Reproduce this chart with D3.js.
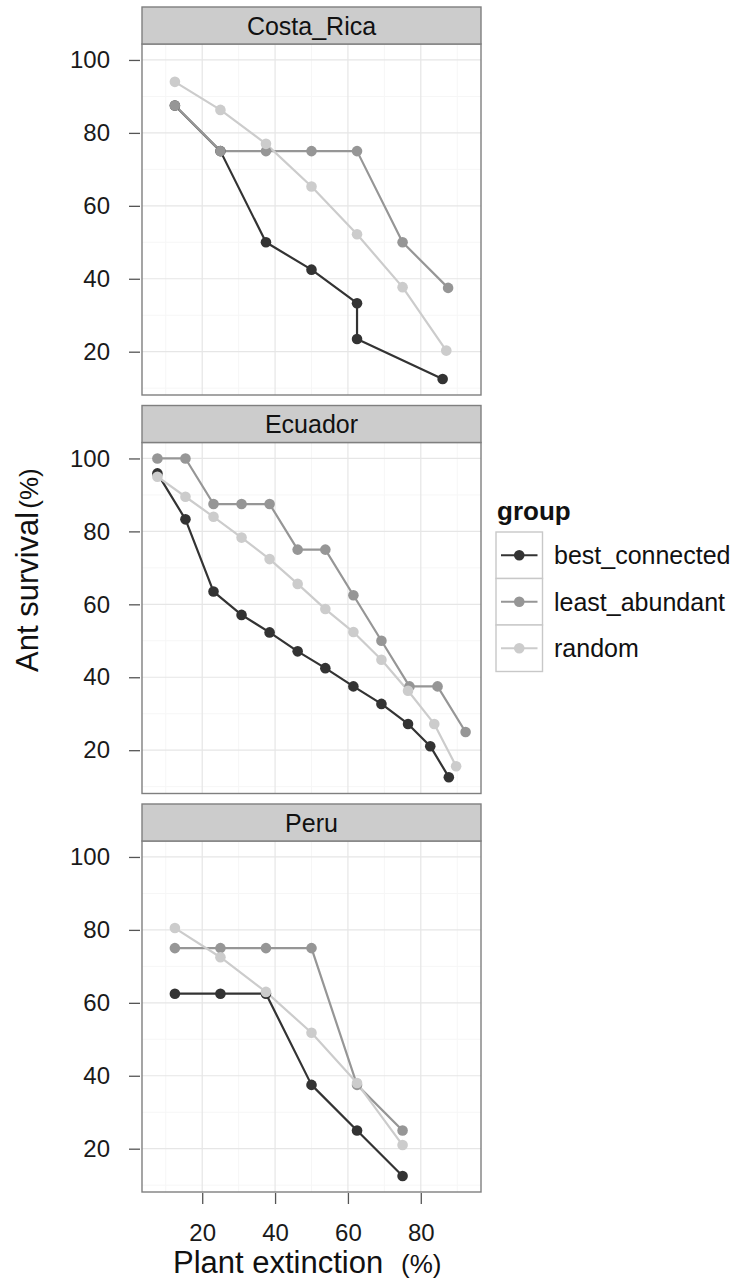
<!DOCTYPE html>
<html>
<head>
<meta charset="utf-8">
<script src="https://cdn.jsdelivr.net/npm/d3@7/dist/d3.min.js"></script>
<style>
  body { margin: 0; background: #fff; }
  svg { display: block; font-family: "Liberation Sans", Arial, Helvetica, sans-serif; }
</style>
</head>
<body>
<script>
// facets, groups, ticks
const sites = ['Costa_Rica', 'Ecuador', 'Peru'];
const groups = ['best_connected', 'least_abundant', 'random'];
const xTicks = [20, 40, 60, 80];
const yTicks = [20, 40, 60, 80, 100];
const xMinor = [10, 30, 50, 70, 90];
const yMinor = [10, 30, 50, 70, 90];

// Costa_Rica
const crBestX = [12.5, 25, 37.5, 50, 62.5, 62.5, 86];
const crBestY = [87.5, 75, 50, 42.5, 33.3, 23.5, 12.5];
const crLeastX = [12.5, 25, 37.5, 50, 62.5, 75, 87.5];
const crLeastY = [87.5, 75, 75, 75, 75, 50, 37.5];
const crRandX = [12.5, 25, 37.5, 50, 62.5, 75, 87];
const crRandY = [94, 86.3, 77, 65.3, 52.2, 37.7, 20.3];

// Ecuador
const ecBestX = [7.7, 15.4, 23.1, 30.8, 38.5, 46.2, 53.8, 61.5, 69.2, 76.5, 82.6, 87.7];
const ecBestY = [95.9, 83.3, 63.5, 57.1, 52.3, 47.1, 42.5, 37.5, 32.7, 27.2, 21.1, 12.6];
const ecLeastX = [7.7, 15.4, 23.1, 30.8, 38.5, 46.2, 53.8, 61.5, 69.2, 76.9, 84.6, 92.3];
const ecLeastY = [100, 100, 87.5, 87.5, 87.5, 75, 75, 62.5, 50, 37.5, 37.5, 25];
const ecRandX = [7.7, 15.4, 23.1, 30.8, 38.5, 46.2, 53.8, 61.5, 69.2, 76.5, 83.7, 89.7];
const ecRandY = [95, 89.5, 84, 78.3, 72.4, 65.6, 58.7, 52.4, 44.8, 36.3, 27.2, 15.6];

// Peru
const peBestX = [12.5, 25, 37.5, 50, 62.5, 75];
const peBestY = [62.5, 62.5, 62.5, 37.5, 25, 12.5];
const peLeastX = [12.5, 25, 37.5, 50, 62.5, 75];
const peLeastY = [75, 75, 75, 75, 37.5, 25];
const peRandX = [12.5, 25, 37.5, 50, 62.5, 75];
const peRandY = [80.5, 72.5, 63, 51.8, 38, 21];

const zip = (xs, ys) => xs.map((x, i) => ({x: x, y: ys[i]}));
const series = {
  Costa_Rica: [zip(crBestX, crBestY), zip(crLeastX, crLeastY), zip(crRandX, crRandY)],
  Ecuador: [zip(ecBestX, ecBestY), zip(ecLeastX, ecLeastY), zip(ecRandX, ecRandY)],
  Peru: [zip(peBestX, peBestY), zip(peLeastX, peLeastY), zip(peRandX, peRandY)]
};

const W = 739, H = 1283;
const left = 142, right = 481;
const stripH = 37, plotH = 351, firstTop = 7, step = 398.5;

const svg = d3.select(document.body).append('svg')
  .attr('width', W)
  .attr('height', H);

const color = d3.scaleOrdinal()
  .domain(groups)
  .range(['#333333', '#969696', '#cccccc']);

// ggplot style 5% expansion on the shared scales
const allPts = sites.flatMap(s => series[s].flat());
const expand = ext => {
  const pad = (ext[1] - ext[0]) * 0.05;
  return [ext[0] - pad, ext[1] + pad];
};
const xDomain = expand(d3.extent(allPts, d => d.x));
const yDomain = expand(d3.extent(allPts, d => d.y));

const x = d3.scaleLinear().domain(xDomain).range([left, right]);

sites.forEach((site, i) => {
  const stripTop = firstTop + i * step;
  const top = stripTop + stripH;
  const bottom = top + plotH;
  const y = d3.scaleLinear().domain(yDomain).range([bottom, top]);

  const g = svg.append('g').attr('class', 'facet');

  g.append('rect')
    .attr('x', left).attr('y', top)
    .attr('width', right - left).attr('height', plotH)
    .attr('fill', '#fff');

  // minor grid
  g.selectAll('.vminor').data(xMinor).enter().append('line')
    .attr('x1', d => x(d)).attr('x2', d => x(d))
    .attr('y1', top).attr('y2', bottom)
    .attr('stroke', '#f6f6f6').attr('stroke-width', 1);
  g.selectAll('.hminor').data(yMinor.filter(v => y(v) < bottom)).enter().append('line')
    .attr('x1', left).attr('x2', right)
    .attr('y1', d => y(d)).attr('y2', d => y(d))
    .attr('stroke', '#f6f6f6').attr('stroke-width', 1);

  // major grid
  g.selectAll('.vmajor').data(xTicks).enter().append('line')
    .attr('x1', d => x(d)).attr('x2', d => x(d))
    .attr('y1', top).attr('y2', bottom)
    .attr('stroke', '#e6e6e6').attr('stroke-width', 1.2);
  g.selectAll('.hmajor').data(yTicks).enter().append('line')
    .attr('x1', left).attr('x2', right)
    .attr('y1', d => y(d)).attr('y2', d => y(d))
    .attr('stroke', '#e6e6e6').attr('stroke-width', 1.2);

  const line = d3.line().x(d => x(d.x)).y(d => y(d.y));

  // lines first, then points (layer order)
  series[site].forEach((pts, gi) => {
    g.append('path')
      .datum(pts)
      .attr('d', line)
      .attr('fill', 'none')
      .attr('stroke', color(groups[gi]))
      .attr('stroke-width', 2.2)
      .attr('stroke-linejoin', 'round');
  });
  series[site].forEach((pts, gi) => {
    g.selectAll(null).data(pts).enter().append('circle')
      .attr('cx', d => x(d.x))
      .attr('cy', d => y(d.y))
      .attr('r', 5.3)
      .attr('fill', color(groups[gi]));
  });

  // panel border
  g.append('rect')
    .attr('x', left).attr('y', top)
    .attr('width', right - left).attr('height', plotH)
    .attr('fill', 'none').attr('stroke', '#7f7f7f').attr('stroke-width', 1.4);

  // strip
  g.append('rect')
    .attr('x', left).attr('y', stripTop)
    .attr('width', right - left).attr('height', stripH)
    .attr('fill', '#cccccc').attr('stroke', '#7f7f7f').attr('stroke-width', 1.4);
  g.append('text')
    .attr('x', (left + right) / 2).attr('y', stripTop + stripH / 2)
    .attr('dy', '0.36em')
    .attr('text-anchor', 'middle')
    .attr('font-size', 25)
    .attr('fill', '#111')
    .text(site);

  // y axis
  const yAxis = g.append('g')
    .attr('transform', `translate(${left - 2},0)`)
    .call(d3.axisLeft(y).tickValues(yTicks).tickSize(11).tickPadding(19));
  yAxis.select('.domain').remove();
  yAxis.selectAll('.tick line').attr('stroke', '#555').attr('stroke-width', 1.3);
  yAxis.selectAll('.tick text')
    .attr('font-size', 24).attr('fill', '#1a1a1a')
    .attr('font-family', '"Liberation Sans", Arial, sans-serif');

  if (i === sites.length - 1) {
    const xAxis = g.append('g')
      .attr('transform', `translate(0,${bottom + 1})`)
      .call(d3.axisBottom(x).tickValues(xTicks).tickSize(11).tickPadding(20));
    xAxis.select('.domain').remove();
    xAxis.selectAll('.tick line').attr('stroke', '#555').attr('stroke-width', 1.3);
    xAxis.selectAll('.tick text')
      .attr('font-size', 24).attr('fill', '#1a1a1a')
      .attr('font-family', '"Liberation Sans", Arial, sans-serif');
  }
});

// axis titles
const xTitle = svg.append('text')
  .attr('x', 173).attr('y', 1273)
  .attr('fill', '#111');
xTitle.append('tspan').attr('font-size', 31).text('Plant extinction');
xTitle.append('tspan').attr('x', 401).attr('font-size', 26).text('(%)');

const yTitle = svg.append('text')
  .attr('transform', 'translate(38,672) rotate(-90)')
  .attr('fill', '#111');
yTitle.append('tspan').attr('font-size', 31).text('Ant survival');
yTitle.append('tspan').attr('dx', 3).attr('font-size', 26).text('(%)');

// legend
const legend = svg.append('g').attr('class', 'legend');
legend.append('text')
  .attr('x', 497).attr('y', 520)
  .attr('font-size', 26).attr('font-weight', 'bold')
  .attr('fill', '#111')
  .text('group');

const keyTop = 532, keySize = 46.5, keyLeft = 496;
const rows = legend.selectAll('.row').data(groups).enter().append('g')
  .attr('transform', (d, i) => `translate(${keyLeft},${keyTop + i * keySize})`);
rows.append('rect')
  .attr('width', keySize).attr('height', keySize)
  .attr('fill', '#fff').attr('stroke', '#c8c8c8').attr('stroke-width', 1.4);
rows.append('line')
  .attr('x1', 5).attr('x2', keySize - 5)
  .attr('y1', keySize / 2).attr('y2', keySize / 2)
  .attr('stroke', d => color(d)).attr('stroke-width', 2.2);
rows.append('circle')
  .attr('cx', keySize / 2).attr('cy', keySize / 2).attr('r', 5.3)
  .attr('fill', d => color(d));
rows.append('text')
  .attr('x', 58).attr('y', keySize / 2).attr('dy', '0.36em')
  .attr('font-size', 25).attr('fill', '#111')
  .text(d => d);
</script>
</body>
</html>
